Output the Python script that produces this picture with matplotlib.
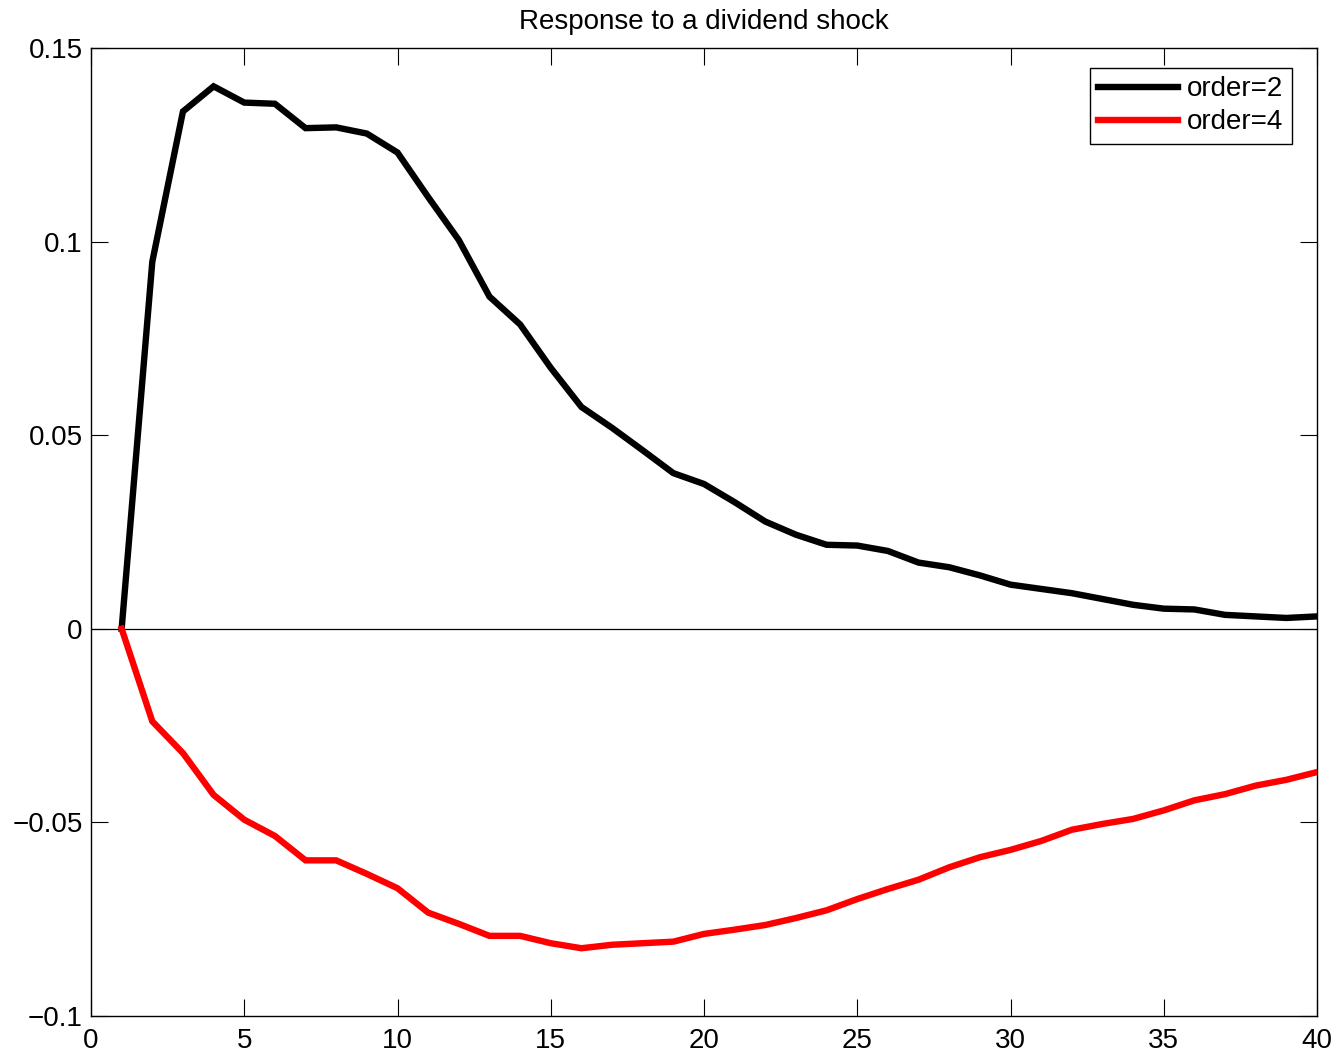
import matplotlib
matplotlib.use("Agg")
import matplotlib.pyplot as plt

# impulse response horizon
periods = list(range(1, 41))

# response, order=2
order2 = [0.0, 0.0948, 0.1336, 0.1401, 0.1359, 0.1356, 0.1293, 0.1295, 0.1279, 0.1230,
          0.1115, 0.1004, 0.0858, 0.0786, 0.0674, 0.0573, 0.0519, 0.0461, 0.0402, 0.0374,
          0.0327, 0.0277, 0.0243, 0.0217, 0.0215, 0.0201, 0.0171, 0.0159, 0.0138, 0.0114,
          0.0103, 0.0092, 0.0077, 0.0062, 0.0052, 0.0050, 0.0036, 0.0032, 0.0028, 0.0032]

# response, order=4
order4 = [0.0, -0.0239, -0.0321, -0.0429, -0.0493, -0.0535, -0.0598, -0.0598, -0.0633, -0.0670,
          -0.0733, -0.0762, -0.0793, -0.0793, -0.0812, -0.0825, -0.0816, -0.0812, -0.0808, -0.0788,
          -0.0777, -0.0765, -0.0747, -0.0727, -0.0698, -0.0672, -0.0648, -0.0616, -0.0590, -0.0571,
          -0.0548, -0.0519, -0.0504, -0.0491, -0.0469, -0.0443, -0.0427, -0.0405, -0.0390, -0.0370]

series_labels = ["order=2", "order=4"]
xticks = [0, 5, 10, 15, 20, 25, 30, 35, 40]
yticks = [-0.1, -0.05, 0, 0.05, 0.1, 0.15]
ytick_labels = ["\u22120.1", "\u22120.05", "0", "0.05", "0.1", "0.15"]

plt.rcParams["font.family"] = ["Liberation Sans", "DejaVu Sans"]
plt.rcParams["font.size"] = 20

fig = plt.figure(figsize=(13.35, 10.53), dpi=100)
ax = fig.add_axes([91 / 1335, 1 - 1016 / 1053, (1317 - 91) / 1335, (1016 - 48) / 1053])

ax.plot(periods, order2, color="black", lw=4.6, label=series_labels[0],
        solid_joinstyle="miter", zorder=3)
ax.plot(periods, order4, color="red", lw=4.6, label=series_labels[1],
        solid_joinstyle="miter", zorder=3)
ax.plot([0, 40], [0, 0], color="black", lw=0.9, zorder=2)

ax.set_xlim(0, 40)
ax.set_ylim(-0.1, 0.15)
ax.set_xticks(xticks)
ax.set_xticklabels([str(t) for t in xticks])
ax.set_yticks(yticks)
ax.set_yticklabels(ytick_labels)
ax.tick_params(direction="in", length=12, width=0.8, top=True, right=True, labelsize=20)
ax.tick_params(axis="x", pad=9)
ax.tick_params(axis="y", pad=6)
for sp in ax.spines.values():
    sp.set_linewidth(1.0)

ax.set_title("Response to a dividend shock", fontsize=20, pad=14)

leg = ax.legend(loc="upper right", bbox_to_anchor=(0.9796, 0.9793), borderaxespad=0,
                fancybox=False, framealpha=1, edgecolor="black",
                fontsize=20, handlelength=2.9, handletextpad=0.32,
                borderpad=0.3, labelspacing=0.25)
leg.get_frame().set_linewidth(1.0)

fig.savefig("out.png", dpi=100)
